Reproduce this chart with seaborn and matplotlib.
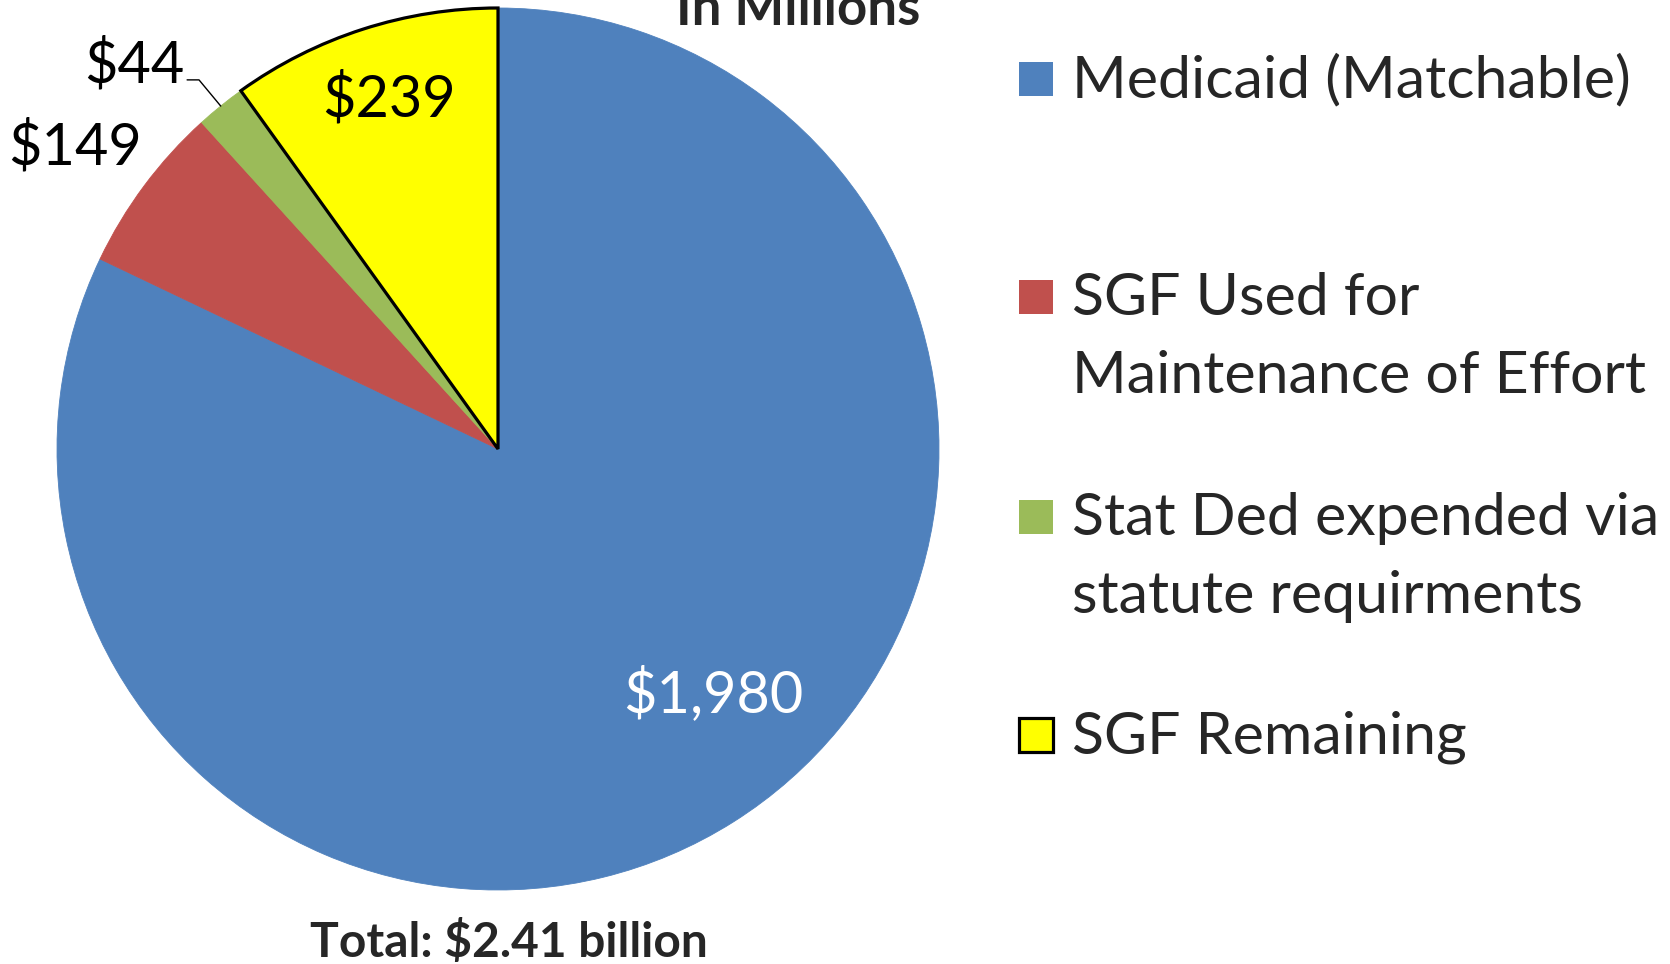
import matplotlib
matplotlib.use("Agg")
import matplotlib.pyplot as plt
import seaborn as sns
from matplotlib.patches import Rectangle
import numpy as np

# data
categories = ["Medicaid (Matchable)",
              "SGF Used for\nMaintenance of Effort",
              "Stat Ded expended via\nstatute requirments",
              "SGF Remaining"]
values = [1980, 149, 44, 239]
value_labels = ["$1,980", "$149", "$44", "$239"]
colors = ["#4F81BD", "#C0504D", "#9BBB59", "#FFFF00"]

sns.set_theme(style="white")
plt.rcParams['font.family'] = ['Lato', 'DejaVu Sans']

W, H = 1670, 964
fig = plt.figure(figsize=(W / 100, H / 100), dpi=100)

# pie centre (498, 449) px, radius 441 px
cx, cy, r = 498, 449, 441
ax = fig.add_axes([(cx - r) / W, (H - cy - r) / H, 2 * r / W, 2 * r / H])
wedges, _ = ax.pie(values, colors=colors, startangle=90, counterclock=False,
                   wedgeprops=dict(linewidth=0.6))
for w, c in zip(wedges, colors):
    w.set_edgecolor(c)
wedges[3].set_edgecolor("black")
wedges[3].set_linewidth(2.3)
wedges[3].set_zorder(5)
ax.set_xlim(-1, 1)
ax.set_ylim(-1, 1)
ax.set_aspect("equal")
ax.axis("off")

# value labels (baseline positions in radius units)
label_pos = [(0.4875, -0.596), (-0.959, 0.644), (-0.825, 0.830), (-0.247, 0.753)]
label_col = ["white", "black", "black", "black"]
for (x, y), t, c in zip(label_pos, value_labels, label_col):
    ax.text(x, y, t, ha="center", va="baseline", fontsize=41.5, color=c,
            clip_on=False, zorder=10)

# leader line for the small green slice
w = wedges[2]
mid = np.deg2rad((w.theta1 + w.theta2) / 2)
ax.plot([-0.705, -0.678, np.cos(mid)], [0.837, 0.837, np.sin(mid)],
        color="black", lw=1, clip_on=False, zorder=10)

# legend
first_baselines = [97, 315, 535, 753]
line_step = 78
for lab, col, yb in zip(categories, colors, first_baselines):
    ec = "black" if col == "#FFFF00" else col
    lw = 2.3 if col == "#FFFF00" else 0
    fig.add_artist(Rectangle((1019 / W, 1 - (yb - 1) / H), 34 / W, 34 / H,
                             transform=fig.transFigure, facecolor=col,
                             edgecolor=ec, linewidth=lw))
    for k, line in enumerate(lab.split("\n")):
        fig.text(1072 / W, 1 - (yb + k * line_step) / H, line,
                 ha="left", va="baseline", fontsize=42.5)

fig.text(798 / W, 1 - 25 / H, "In Millions", ha="center", va="baseline",
         fontsize=38, fontweight="bold")
fig.text(509 / W, 1 - 957 / H, "Total: $2.41 billion", ha="center",
         va="baseline", fontsize=34.5, fontweight="bold")

plt.savefig("out.png", dpi=100)
